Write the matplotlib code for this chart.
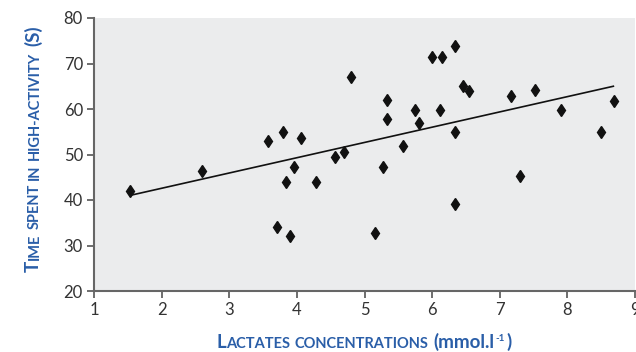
import matplotlib
matplotlib.use('Agg')
import matplotlib.pyplot as plt

# Datos
lactates = [1.53, 2.59, 3.57, 3.71, 3.80, 3.84, 3.90, 3.96, 4.06, 4.28,
            4.57, 4.69, 4.80, 5.15, 5.28, 5.33, 5.33, 5.57, 5.75, 5.80,
            6.00, 6.12, 6.15, 6.34, 6.34, 6.34, 6.45, 6.55, 7.17, 7.30,
            7.52, 7.90, 8.49, 8.69]
time_high = [42.0, 46.3, 53.0, 34.1, 54.9, 44.0, 32.1, 47.3, 53.7, 44.0,
             49.4, 50.5, 67.0, 32.8, 47.3, 62.0, 57.9, 51.8, 59.8, 56.9,
             71.5, 59.8, 71.5, 73.9, 54.9, 39.1, 65.0, 63.9, 62.9, 45.2,
             64.1, 59.8, 54.9, 61.7]

# Recta de tendencia
fit_x = [1.53, 8.68]
fit_y = [41.0, 65.0]

x_ticks = [1, 2, 3, 4, 5, 6, 7, 8, 9]
y_ticks = [20, 30, 40, 50, 60, 70, 80]

plt.rcParams['font.family'] = ['Lato', 'DejaVu Sans']

W, H = 636, 352
fig = plt.figure(figsize=(W / 100, H / 100), dpi=100)
ax = fig.add_axes([94 / W, 1 - 291 / H, (635 - 94) / W, (291 - 18) / H])
ax.set_facecolor('#ebeced')

ax.plot(fit_x, fit_y, color='#111111', lw=1.2, zorder=2)
ax.plot(lactates, time_high, 'd', color='#111111', markersize=6.5, zorder=3)

ax.set_xlim(1, 9)
ax.set_ylim(20, 80)
ax.set_xticks(x_ticks)
ax.set_yticks(y_ticks)
ax.tick_params(direction='out', length=5, width=1.2, color='#555555',
               labelsize=12, labelcolor='#333333', pad=3)

for s in ['top', 'right']:
    ax.spines[s].set_visible(False)
for s in ['left', 'bottom']:
    ax.spines[s].set_color('#666666')
    ax.spines[s].set_linewidth(1.5)

# Etiquetas en versalitas, pieza por pieza
blue = '#2a5ea8'
renderer = fig.canvas.get_renderer()


def small_caps(pieces, x0, y0, rotation):
    pos = 0.0
    for text, size, gap, dy in pieces:
        pos += gap
        if rotation == 0:
            x, y = x0 + pos, y0 + dy
        else:
            x, y = x0 - dy, y0 + pos
        t = fig.text(x, y, text, transform=None, fontsize=size, color=blue,
                     fontweight='bold', rotation=rotation,
                     rotation_mode='anchor', ha='left', va='baseline')
        ext = t.get_window_extent(renderer)
        pos += ext.width if rotation == 0 else ext.height


big, sml = 13.5, 10.5
small_caps([('T', big, 0, 0), ('IME', sml, 0.5, 0), ('SPENT', sml, 4.5, 0),
            ('IN', sml, 4.5, 0), ('HIGH-ACTIVITY', sml, 4.5, 0),
            ('(S)', big, 5, 0)],
           39, H - 272, 90)

small_caps([('L', big, 0, 0), ('ACTATES', sml, 0.5, 0),
            ('CONCENTRATIONS', sml, 4.5, 0), ('(mmol.l', big, 5, 0),
            ('-1', 7, 1, 7), (')', big, 1, 0)],
           216, H - 348, 0)

fig.savefig('out.png', dpi=100)
